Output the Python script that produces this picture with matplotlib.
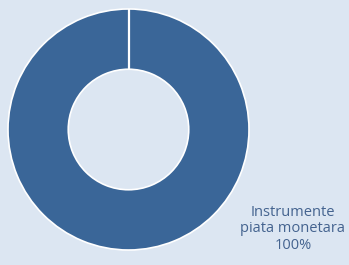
import matplotlib
matplotlib.use("Agg")
import matplotlib.pyplot as plt
import numpy as np

labels = ["Instrumente\npiata monetara"]
values = [100]

bg = "#DCE6F2"
fig = plt.figure(figsize=(3.49, 2.65), dpi=100)
fig.patch.set_facecolor(bg)

# donut axes: center ~ (128.5, 129.5) px, radius ~120.5 px
ax = fig.add_axes([8 / 349, 15 / 265, 241 / 349, 241 / 265])
ax.set_facecolor(bg)
start = 90
wedges, _ = ax.pie(values, startangle=start, counterclock=False, radius=1.0,
                   colors=["#3A6698"],
                   wedgeprops=dict(width=0.5, edgecolor="white", linewidth=1.2))
# a full-circle wedge has no radial edge in matplotlib; add the seam
a = np.deg2rad(start)
ax.plot([0.5 * np.cos(a), np.cos(a)], [0.5 * np.sin(a), np.sin(a)],
        color="white", lw=1.6, solid_capstyle="butt")
ax.set_xlim(-1.0, 1.0)
ax.set_ylim(-1.0, 1.0)
ax.set_aspect("equal")
ax.axis("off")

total = sum(values)
for lab, v in zip(labels, values):
    fig.text(293 / 349, 1 - 229 / 265, f"{lab}\n{v / total * 100:.0f}%",
             ha="center", va="center", fontsize=10.5, family="Open Sans",
             color="#44638F", linespacing=1.1)

fig.savefig("out.png", dpi=100, facecolor=bg)
